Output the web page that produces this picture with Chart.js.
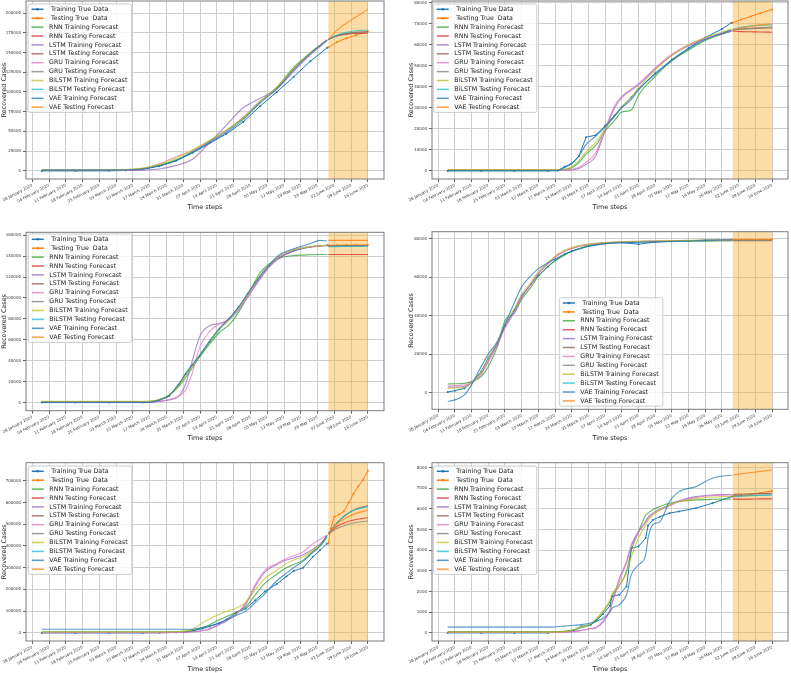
<!DOCTYPE html>
<html>
<head>
<meta charset="utf-8">
<script src="https://cdn.jsdelivr.net/npm/chart.js@4.4.0/dist/chart.umd.min.js"></script>
<style>
html,body{margin:0;padding:0;background:#fff;}
body{width:791px;height:673px;position:relative;overflow:hidden;}
canvas{position:absolute;}
</style>
</head>
<body>
<canvas id="c1"></canvas><canvas id="c2"></canvas>
<canvas id="c3"></canvas><canvas id="c4"></canvas>
<canvas id="c5"></canvas><canvas id="c6"></canvas>
<script>
// x axis: days counted from 28 January 2020, weekly tick labels
const tickDays = [0,7,14,21,28,35,42,49,56,63,70,77,84,91,98,105,112,119,126,133,140];
const dateLabels = ['28 January 2020','04 February 2020','11 February 2020','18 February 2020','25 February 2020',
  '03 March 2020','10 March 2020','17 March 2020','24 March 2020','31 March 2020','07 April 2020','14 April 2020',
  '21 April 2020','28 April 2020','05 May 2020','12 May 2020','19 May 2020','26 May 2020','02 June 2020',
  '09 June 2020','16 June 2020'];
const seriesLabels = [' Training True Data',' Testing True  Data','RNN Training Forecast','RNN Testing Forecast',
  'LSTM Training Forecast','LSTM Testing Forecast','GRU Training Forecast','GRU Testing Forecast',
  'BiLSTM Training Forecast','BiLSTM Testing Forecast','VAE Training Forecast','VAE Testing Forecast'];
const seriesColors = ['#1f77b4','#ff7f0e','#2ca02c','#d62728','#9467bd','#8c564b','#e377c2','#7f7f7f','#bcbd22','#17becf','#1f77b4','#ff7f0e'];
const testSpan = [123.5, 140];

// ---- chart 1
const yTicks1 = [0,25000,50000,75000,100000,125000,150000,175000,200000];
const days1 = [4,18,32,39,46,53,60,67,74,81,88,95,102,109,116,123];
const true1 = [0,0,50,600,2000,6000,13000,23000,35000,47000,62000,82000,100000,119000,139000,156000];
const rnn1 = [1500,1500,1500,1800,3000,7000,14000,25000,38000,51000,67000,88000,106000,131000,149000,166000];
const lstm1 = [500,500,500,600,1000,2500,7000,15000,36000,58000,80000,92000,104000,126000,147000,165000];
const gru1 = [800,800,800,1000,2500,9000,18000,26000,37000,51000,68000,88000,104000,128000,149000,166000];
const bilstm1 = [1200,1200,1200,1500,3500,8000,16000,27000,39000,52000,67000,87000,106000,130000,150000,166000];
const vae1 = [1000,1000,1000,1200,2500,6500,13000,24000,36000,49000,65000,86000,104000,128000,149000,166000];
const testDays1 = [123.5,127,131,135,140];
const testTrue1 = [156500,163000,168000,172000,177000];
const rnnTest1 = [166500,171000,173000,174000,174500];
const lstmTest1 = [166500,171500,174000,175500,176500];
const gruTest1 = [166500,171000,173500,175000,176000];
const bilstmTest1 = [166500,172000,175500,177500,178500];
const vaeTest1 = [166500,178000,187000,195000,205000];

// ---- chart 2
const yTicks2 = [0,10000,20000,30000,40000,50000,60000,70000,80000];
const days2 = [4,18,32,46,50,53,56,59,62,66,70,74,77,81,84,91,98,105,112,119,123];
const true2 = [0,0,0,0,100,2000,3500,7000,16000,17000,21500,26500,30500,35000,39000,46500,53000,58500,63500,67500,70500];
const rnn2 = [500,500,500,500,500,700,1500,4000,8000,12000,19000,24000,28000,29000,36000,45000,52500,57500,62000,65000,66500];
const lstm2 = [300,300,300,300,300,300,500,1200,3000,7000,19000,30000,35000,38500,41000,48500,55000,59500,62800,65200,66500];
const gru2 = [400,400,400,400,400,400,700,1800,4000,8500,20000,31000,35500,39000,41500,49000,55500,60000,63200,65500,67000];
const bilstm2 = [600,600,600,600,600,800,2000,5000,9000,13500,20000,26000,30500,35000,39500,48000,55000,60000,63500,66000,67500];
const vae2 = [200,200,200,200,200,1500,3500,7000,12500,16500,21000,26000,30000,34000,38500,46000,52500,58000,62500,65500,67000];
const testDays2 = [123.5,127,131,135,140];
const testTrue2 = [70500,72000,73500,75000,76800];
const rnnTest2 = [66500,66300,66200,66100,66000];
const lstmTest2 = [67000,67400,67700,67900,68000];
const gruTest2 = [67000,67500,67900,68200,68400];
const bilstmTest2 = [67500,68300,68900,69300,69500];
const vaeTest2 = [67000,68000,68800,69500,70000];

// ---- chart 3
const yTicks3 = [0,20000,40000,60000,80000,100000,120000,140000,160000];
const days3 = [4,18,32,46,50,53,57,61,64,67,70,74,78,82,86,90,95,99,103,109,116,120,123];
const true3 = [0,0,0,0,500,2500,6000,17000,27000,36000,45000,58000,70000,80000,91000,104000,120000,131000,139000,145000,149000,150000,150300];
const rnn3 = [1000,1000,1000,1000,1500,3000,7000,15000,24000,34000,44000,56000,67000,74000,86000,103000,124000,133000,138000,140500,141300,141500,141500];
const lstm3 = [500,500,500,500,600,1200,2500,6000,18000,42000,64000,73500,75500,79000,88000,101000,118000,130000,138000,145000,148500,149500,150000];
const gru3 = [800,800,800,800,900,1500,3000,6000,12000,30000,54000,68000,75000,80000,89000,102000,119000,131000,139000,146000,149000,149800,150000];
const bilstm3 = [1200,1200,1200,1200,1500,3000,7000,16000,26000,36000,46000,58000,70000,79000,90000,104000,121000,132000,140000,146000,149000,150000,150200];
const vae3 = [300,300,300,300,600,2500,6500,17500,28000,37000,46000,59000,71000,80000,91000,105000,121000,132000,141000,147000,152000,155000,154500];
const testDays3 = [123.5,127,131,135,140];
const testTrue3 = [150300,150400,150500,150600,150700];
const rnnTest3 = [141500,141500,141500,141500,141500];
const lstmTest3 = [149800,149900,150000,150000,150100];
const gruTest3 = [149500,149600,149700,149800,149900];
const bilstmTest3 = [149000,149100,149200,149300,149400];
const vaeTest3 = [155000,155000,155000,155000,155000];

// ---- chart 4
const yTicks4 = [0,20000,40000,60000,80000];
const days4 = [4,7,11,14,18,21,25,28,32,35,39,42,46,49,53,56,63,70,77,84,91,98,105,112,123];
const true4 = [300,1000,2200,5200,10900,18000,25500,35000,43000,50500,56500,61000,65500,68800,72000,73500,76300,77500,78000,77200,78300,78700,79000,79300,79500];
const rnn4 = [4500,4600,4800,5700,8300,13500,24500,37500,41500,48500,55000,60500,65500,68500,71500,73500,76500,77700,78200,78400,78500,78600,78700,78800,78900];
const lstm4 = [2800,2900,3300,5000,10000,16500,26000,34000,42000,49500,56500,62000,67000,70500,73500,75000,77000,78000,78400,78600,78800,79000,79100,79200,79300];
const gru4 = [3500,3600,3900,5200,9500,16000,25000,33500,42000,49500,56500,62000,67000,70500,73500,75000,77000,78000,78400,78600,78800,79000,79100,79200,79300];
const bilstm4 = [2200,2400,2800,4800,10500,18000,27000,36000,44000,51000,57500,63000,67500,71000,74000,75500,77200,78100,78500,78700,78900,79000,79200,79300,79400];
const vae4 = [-4600,-3800,-1200,4000,13500,20000,27000,35500,47000,55000,61000,64500,67500,69500,72000,73500,76000,77500,78000,78200,78400,78600,78900,79200,79400];
const testDays4 = [123.5,127,131,135,140];
const testTrue4 = [79500,79500,79600,79600,79600];
const rnnTest4 = [79000,79000,79000,79000,79000];
const lstmTest4 = [79300,79300,79300,79300,79300];
const gruTest4 = [79300,79300,79300,79300,79300];
const bilstmTest4 = [79400,79400,79400,79400,79400];
const vaeTest4 = [79600,79600,79600,79600,79600];

// ---- chart 5
const yTicks5 = [0,100000,200000,300000,400000,500000,600000,700000];
const days5 = [4,18,32,46,53,60,64,67,71,74,78,81,85,89,93,97,102,106,109,113,117,120,123];
const true5 = [0,0,0,0,500,2000,4000,9000,20000,30000,45000,62000,92000,112000,150000,190000,225000,260000,285000,300000,350000,380000,411000];
const rnn5 = [5000,5000,5000,5000,5000,6000,8000,12000,25000,38000,60000,75000,95000,120000,175000,228000,270000,300000,315000,335000,375000,400000,440000];
const lstm5 = [1000,1000,1000,1000,1000,1500,2500,5000,10000,17000,38000,55000,85000,130000,215000,280000,315000,335000,345000,360000,385000,410000,445000];
const gru5 = [2000,2000,2000,2000,2000,2500,3000,5000,11000,20000,40000,55000,85000,137000,221000,289000,320000,342000,355000,373000,411000,430000,450000];
const bilstm5 = [4000,4000,4000,4000,4000,5000,9000,18000,46000,65000,85000,99000,114000,140000,198000,251000,289000,320000,335000,350000,380000,405000,440000];
const vae5 = [17000,17000,17000,17000,17000,17000,17000,17000,25000,32000,45000,60000,80000,100000,140000,180000,240000,275000,300000,330000,370000,400000,450000];
const testDays5 = [123.5,127,131,135,140];
const testTrueDays5 = [123.5,124.5,126,128,130,132,134,136,138,140];
const testTrue5 = [411000,480000,535000,545000,560000,600000,640000,675000,705000,746000];
const rnnTest5 = [455000,490000,510000,522000,530000];
const lstmTest5 = [455000,505000,545000,570000,586000];
const gruTest5 = [455000,480000,497000,508000,515000];
const bilstmTest5 = [460000,505000,545000,568000,580000];
const vaeTest5 = [455000,500000,530000,550000,565000];

// ---- chart 6
const yTicks6 = [0,1000,2000,3000,4000,5000,6000,7000,8000];
const days6 = [4,18,32,46,53,57,60,64,66,69,72,73,76,79,81,84,87,88,90,93,97,101,108,115,123];
const true6 = [0,0,0,0,60,130,320,400,560,900,1300,1770,1850,2250,4100,4190,4590,5200,5470,5630,5800,5880,6040,6280,6600];
const rnn6 = [60,60,60,60,80,150,250,400,600,1000,1500,1800,2300,3000,4000,4900,5700,5800,5960,6120,6280,6360,6440,6470,6480];
const lstm6 = [20,20,20,20,30,60,120,200,240,500,1100,1500,2650,3460,4270,4900,5400,5600,5800,6000,6200,6400,6600,6680,6700];
const gru6 = [30,30,30,30,40,70,130,210,260,550,1100,1450,2500,3400,4200,4850,5350,5550,5750,5950,6150,6350,6550,6650,6700];
const bilstm6 = [40,40,40,40,60,150,300,450,650,1050,1600,1900,2330,2900,3700,4600,5230,5450,5700,5950,6200,6350,6500,6580,6620];
const vae6 = [280,280,280,280,330,370,400,480,560,700,1000,1200,1370,1850,2820,3300,3780,4590,5230,5390,6360,6840,7080,7490,7650];
const testDays6 = [123.5,127,131,135,140];
const testTrue6 = [6600,6650,6700,6780,6875];
const rnnTest6 = [6480,6480,6480,6490,6490];
const lstmTest6 = [6700,6720,6740,6750,6760];
const gruTest6 = [6650,6660,6670,6680,6690];
const bilstmTest6 = [6580,6610,6640,6660,6680];
const vaeTest6 = [7650,7700,7760,7820,7890];

const FONT = 'DejaVu Sans';

function rgba(hex, a) {
  const n = parseInt(hex.slice(1), 16);
  return 'rgba(' + (n >> 16) + ',' + ((n >> 8) & 255) + ',' + (n & 255) + ',' + a + ')';
}

function makeDatasets(series) {
  return series.map(function (s, i) {
    const isTrue = i < 2;
    return {
      label: seriesLabels[i],
      data: s[0].map((x, k) => ({x: x, y: s[1][k]})),
      borderColor: isTrue ? seriesColors[i] : rgba(seriesColors[i], 0.75),
      backgroundColor: seriesColors[i],
      borderWidth: isTrue ? 1 : 1.1,
      pointRadius: isTrue ? 1 : 0,
      pointBorderWidth: 0,
      pointHoverRadius: 0,
      tension: 0,
      cubicInterpolationMode: isTrue ? 'default' : 'monotone',
      fill: false,
      order: 12 - i
    };
  });
}

const shadePlugin = {
  id: 'shade',
  beforeDatasetsDraw(chart) {
    const ctx = chart.ctx, a = chart.chartArea, x = chart.scales.x;
    const x0 = x.getPixelForValue(testSpan[0]), x1 = x.getPixelForValue(testSpan[1]);
    ctx.save();
    ctx.fillStyle = 'rgba(250,180,60,0.45)';
    ctx.fillRect(x0, a.top, x1 - x0, a.bottom - a.top);
    ctx.restore();
  }
};

const framePlugin = {
  id: 'frame',
  afterDatasetsDraw(chart) {
    const ctx = chart.ctx, a = chart.chartArea;
    ctx.save();
    ctx.strokeStyle = '#7a7a7a';
    ctx.lineWidth = 1;
    ctx.strokeRect(a.left, a.top, a.right - a.left, a.bottom - a.top);
    ctx.restore();
  }
};

function legendPlugin(off) {
  return {
    id: 'boxLegend',
    afterDraw(chart) {
      const ctx = chart.ctx, a = chart.chartArea;
      const x0 = a.left + off[0], y0 = a.top + off[1];
      const rowH = 8.9, w = 103.5, h = rowH * 12 + 1.6;
      ctx.save();
      ctx.beginPath();
      if (ctx.roundRect) ctx.roundRect(x0, y0, w, h, 2); else ctx.rect(x0, y0, w, h);
      ctx.fillStyle = 'rgba(255,255,255,0.8)';
      ctx.fill();
      ctx.strokeStyle = '#cccccc';
      ctx.lineWidth = 1;
      ctx.stroke();
      ctx.font = '6.3px "' + FONT + '"';
      ctx.textBaseline = 'middle';
      chart.data.datasets.forEach(function (ds, i) {
        const cy = y0 + 5.3 + i * rowH;
        ctx.strokeStyle = ds.borderColor;
        ctx.lineWidth = 1.5;
        ctx.beginPath();
        ctx.moveTo(x0 + 3.5, cy);
        ctx.lineTo(x0 + 15.5, cy);
        ctx.stroke();
        if (ds.pointRadius) {
          ctx.fillStyle = ds.backgroundColor;
          ctx.beginPath();
          ctx.arc(x0 + 9.5, cy, 1.3, 0, Math.PI * 2);
          ctx.fill();
        }
        ctx.fillStyle = '#1a1a1a';
        ctx.fillText(ds.label, x0 + 21, cy);
      });
      ctx.restore();
    }
  };
}

function makeChart(id, box, area, titleY, yTitleX, yRange, yTicks, legendOff, series) {
  const canvas = document.getElementById(id);
  canvas.width = box.w;
  canvas.height = box.h;
  canvas.style.left = box.x + 'px';
  canvas.style.top = box.y + 'px';
  const tSize = 6.4, lh = tSize * 1.2;
  const yW = area.L - box.x, xH = box.y + box.h - area.B;
  new Chart(canvas, {
    type: 'line',
    data: {datasets: makeDatasets(series)},
    options: {
      responsive: false,
      animation: false,
      devicePixelRatio: 1,
      events: [],
      layout: {padding: {left: 0, top: area.T - box.y, right: box.x + box.w - area.R, bottom: 0}},
      plugins: {legend: {display: false}, tooltip: {enabled: false}},
      scales: {
        x: {
          type: 'linear', min: -2.6, max: 146.7,
          afterBuildTicks: function (ax) { ax.ticks = tickDays.map(v => ({value: v})); },
          afterFit: function (ax) { ax.height = xH; ax.paddingLeft = 0; ax.paddingRight = 0; },
          ticks: {autoSkip: false, minRotation: 28, maxRotation: 28, padding: 1, color: '#333',
            font: {size: 4, family: FONT}, callback: (v, i) => dateLabels[i]},
          grid: {color: '#cfcfcf', lineWidth: 1, drawTicks: true, tickLength: 3, tickColor: '#666'},
          border: {display: false},
          title: {display: true, text: 'Time steps', color: '#222', font: {size: tSize, family: FONT},
            padding: {top: 0, bottom: box.y + box.h - titleY - lh / 2}}
        },
        y: {
          type: 'linear', min: yRange[0], max: yRange[1],
          afterBuildTicks: function (ax) { ax.ticks = yTicks.map(v => ({value: v})); },
          afterFit: function (ax) { ax.width = yW; ax.paddingTop = 0; ax.paddingBottom = 0; },
          ticks: {padding: 2, color: '#333', font: {size: 4, family: FONT}, callback: v => String(v)},
          grid: {color: '#cfcfcf', lineWidth: 1, drawTicks: true, tickLength: 3, tickColor: '#666'},
          border: {display: false},
          title: {display: true, text: 'Recovered Cases', color: '#222', font: {size: tSize, family: FONT},
            padding: {top: yTitleX - lh / 2, bottom: 0}}
        }
      }
    },
    plugins: [shadePlugin, framePlugin, legendPlugin(legendOff)]
  });
}

const leftBox = (y, h) => ({x: 0, y: y, w: 396, h: h});
const rightBox = (y, h) => ({x: 396, y: y, w: 395, h: h});

makeChart('c1', leftBox(0, 218), {L: 26, T: 0, R: 384, B: 179}, 207, 4, [-10250, 215250], yTicks1, [2, 3], [
  [days1, true1], [testDays1, testTrue1], [days1, rnn1], [testDays1, rnnTest1], [days1, lstm1], [testDays1, lstmTest1],
  [days1, gru1], [testDays1, gruTest1], [days1, bilstm1], [testDays1, bilstmTest1], [days1, vae1], [testDays1, vaeTest1]]);

makeChart('c2', rightBox(0, 218), {L: 432, T: 0, R: 788, B: 179}, 207, 15.5, [-3850, 80850], yTicks2, [1.3, 3], [
  [days2, true2], [testDays2, testTrue2], [days2, rnn2], [testDays2, rnnTest2], [days2, lstm2], [testDays2, lstmTest2],
  [days2, gru2], [testDays2, gruTest2], [days2, bilstm2], [testDays2, bilstmTest2], [days2, vae2], [testDays2, vaeTest2]]);

makeChart('c3', leftBox(218, 230), {L: 26, T: 232.3, R: 384, B: 410.7}, 438, 4, [-7750, 162750], yTicks3, [2.3, 1.7], [
  [days3, true3], [testDays3, testTrue3], [days3, rnn3], [testDays3, rnnTest3], [days3, lstm3], [testDays3, lstmTest3],
  [days3, gru3], [testDays3, gruTest3], [days3, bilstm3], [testDays3, bilstmTest3], [days3, vae3], [testDays3, vaeTest3]]);

makeChart('c4', rightBox(218, 230), {L: 432, T: 231.7, R: 788, B: 409.3}, 438, 15.5, [-8700, 83700], yTicks4, [127.3, 66], [
  [days4, true4], [testDays4, testTrue4], [days4, rnn4], [testDays4, rnnTest4], [days4, lstm4], [testDays4, lstmTest4],
  [days4, gru4], [testDays4, gruTest4], [days4, bilstm4], [testDays4, bilstmTest4], [days4, vae4], [testDays4, vaeTest4]]);

makeChart('c5', leftBox(448, 225), {L: 26, T: 462.7, R: 384, B: 641}, 669, 4, [-37300, 783300], yTicks5, [2.3, 3.3], [
  [days5, true5], [testTrueDays5, testTrue5], [days5, rnn5], [testDays5, rnnTest5], [days5, lstm5], [testDays5, lstmTest5],
  [days5, gru5], [testDays5, gruTest5], [days5, bilstm5], [testDays5, bilstmTest5], [days5, vae5], [testDays5, vaeTest5]]);

makeChart('c6', rightBox(448, 225), {L: 432, T: 462.7, R: 788, B: 641}, 669, 15.5, [-392, 8242], yTicks6, [1.3, 3.3], [
  [days6, true6], [testDays6, testTrue6], [days6, rnn6], [testDays6, rnnTest6], [days6, lstm6], [testDays6, lstmTest6],
  [days6, gru6], [testDays6, gruTest6], [days6, bilstm6], [testDays6, bilstmTest6], [days6, vae6], [testDays6, vaeTest6]]);
</script>
</body>
</html>
